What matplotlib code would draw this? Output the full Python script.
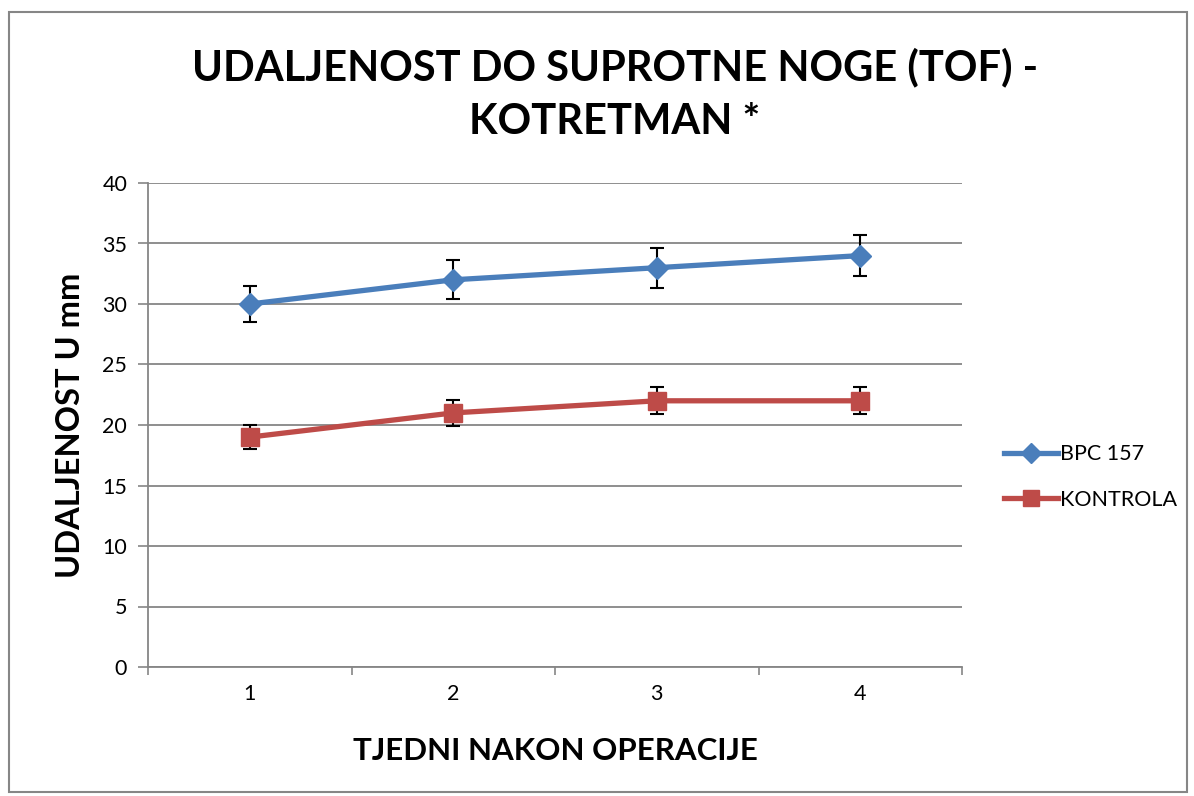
import matplotlib.pyplot as plt
from matplotlib.patches import Rectangle

plt.rcParams['font.family'] = ['Lato', 'DejaVu Sans']

# Podaci
weeks = [1, 2, 3, 4]
bpc157 = [30, 32, 33, 34]
bpc157_err = [1.5, 1.6, 1.65, 1.7]
kontrola = [19, 21, 22, 22]
kontrola_err = [1.0, 1.05, 1.1, 1.1]
yticks = [0, 5, 10, 15, 20, 25, 30, 35, 40]

blue = '#4A7EBB'
red = '#BE4B48'
grid_col = '#868686'

fig = plt.figure(figsize=(11.94, 7.96), dpi=100)
ax = fig.add_axes([148 / 1194, 1 - 667 / 796, 814 / 1194, 484 / 796])

ax.errorbar(weeks, bpc157, yerr=bpc157_err, color=blue, marker='D', markersize=11,
            linewidth=3.8, ecolor='black', elinewidth=1.5, capsize=5, capthick=1.5,
            label='BPC 157', zorder=3)
ax.errorbar(weeks, kontrola, yerr=kontrola_err, color=red, marker='s', markersize=13,
            linewidth=3.8, ecolor='black', elinewidth=1.5, capsize=5, capthick=1.5,
            label='KONTROLA', zorder=3)

ax.set_xlim(0.5, 4.5)
ax.set_ylim(0, 40)
ax.set_yticks(yticks)
ax.set_xticks(weeks)
ax.set_xticks([0.5, 1.5, 2.5, 3.5, 4.5], minor=True)
ax.tick_params(axis='x', which='major', length=0, pad=12, labelsize=15.5)
ax.tick_params(axis='x', which='minor', length=6, color=grid_col, width=1.2, direction='out')
ax.tick_params(axis='y', length=7, color=grid_col, width=1.2, labelsize=15.5, pad=8)

ax.grid(axis='y', color=grid_col, linewidth=1.3)
ax.set_axisbelow(True)
for side in ['top', 'right']:
    ax.spines[side].set_visible(False)
for side in ['left', 'bottom']:
    ax.spines[side].set_color(grid_col)
    ax.spines[side].set_linewidth(1.3)

ax.set_xlabel('TJEDNI NAKON OPERACIJE', fontsize=22.5, fontweight='bold', labelpad=24)
ax.set_ylabel('UDALJENOST U mm', fontsize=23.5, fontweight='bold', labelpad=12)

fig.text(0.515, 0.882, 'UDALJENOST DO SUPROTNE NOGE (TOF) -\nKOTRETMAN *',
         ha='center', va='center', fontsize=30, fontweight='bold', linespacing=1.5)

handles, labels = ax.get_legend_handles_labels()
handles = [h[0] for h in handles]
fig.legend(handles, labels, loc='center left', bbox_to_anchor=(985 / 1194, 1 - 477 / 796),
           frameon=False, fontsize=15.5, handlelength=2.5, handletextpad=0.1,
           labelspacing=1.2, markerscale=0.9)

fig.patches.append(Rectangle((9 / 1194, 4 / 796), 1178 / 1194, 780 / 796,
                             transform=fig.transFigure, fill=False,
                             edgecolor=grid_col, linewidth=1.5))

fig.savefig('out.png', dpi=100)
